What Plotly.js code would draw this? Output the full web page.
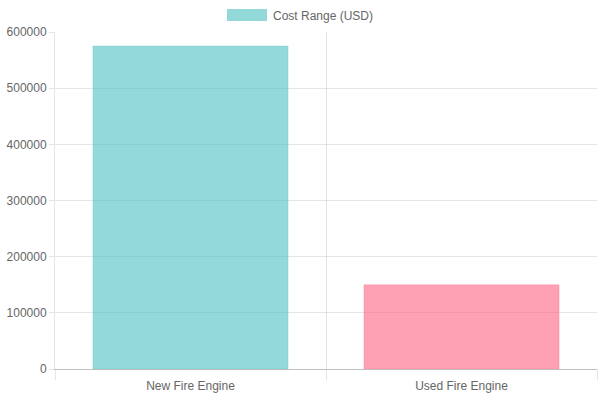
<!DOCTYPE html>
<html>
<head>
<meta charset="utf-8">
<script src="https://cdn.plot.ly/plotly-3.0.1.min.js"></script>
<style>
  html, body { margin: 0; padding: 0; background: #fff; }
  #chart { width: 600px; height: 400px; }
</style>
</head>
<body>
<div id="chart"></div>
<script>
// data
const categorias = ["New Fire Engine", "Used Fire Engine"];
const costos = [575000, 150000];
const etiquetaSerie = "Cost Range (USD)";
const yTicks = [0, 100000, 200000, 300000, 400000, 500000, 600000];

// colours per bar (chart.js style, 0.6 alpha)
const rellenos = ["rgba(75,192,192,0.6)", "rgba(255,99,132,0.6)"];
const bordes = ["rgba(75,192,192,0.25)", "rgba(255,99,132,0.25)"];

const fuente = { family: "Liberation Sans, Arial, sans-serif", size: 12, color: "#666" };

const trace = {
  x: categorias,
  y: costos,
  type: "bar",
  name: etiquetaSerie,
  marker: { color: rellenos, line: { color: bordes, width: 1 } },
  hoverinfo: "x+y",
  showlegend: false
};

const layout = {
  width: 600,
  height: 400,
  margin: { l: 55, r: 3, t: 32, b: 31 },
  paper_bgcolor: "#fff",
  plot_bgcolor: "#fff",
  bargap: 0.28,
  font: fuente,
  xaxis: {
    type: "category",
    tickson: "boundaries",
    ticks: "outside",
    ticklen: 10,
    tickcolor: "rgba(0,0,0,0.1)",
    ticklabelstandoff: 6,
    showgrid: true,
    gridcolor: "rgba(0,0,0,0.1)",
    showline: true,
    linecolor: "rgba(0,0,0,0.25)",
    mirror: false,
    tickfont: fuente,
    fixedrange: true
  },
  yaxis: {
    range: [0, 600000],
    tickvals: yTicks,
    ticktext: yTicks.map(String),
    ticks: "outside",
    ticklen: 5,
    tickcolor: "rgba(0,0,0,0.1)",
    showgrid: true,
    gridcolor: "rgba(0,0,0,0.1)",
    zeroline: false,
    showline: true,
    linecolor: "rgba(0,0,0,0.1)",
    tickfont: fuente,
    fixedrange: true
  },
  // legend drawn like chart.js (40x12 box + label)
  shapes: [{
    type: "rect", xref: "paper", yref: "paper",
    x0: (227 - 55) / 542, x1: (267 - 55) / 542,
    y0: (369 - 21) / 337, y1: (369 - 9) / 337,
    fillcolor: rellenos[0],
    line: { width: 0 }
  }],
  annotations: [{
    text: etiquetaSerie,
    xref: "paper", yref: "paper",
    x: (271 - 55) / 542, y: (369 - 16) / 337,
    xanchor: "left", yanchor: "middle",
    showarrow: false,
    font: fuente
  }]
};

Plotly.newPlot("chart", [trace], layout, { displayModeBar: false, staticPlot: true });
</script>
</body>
</html>
